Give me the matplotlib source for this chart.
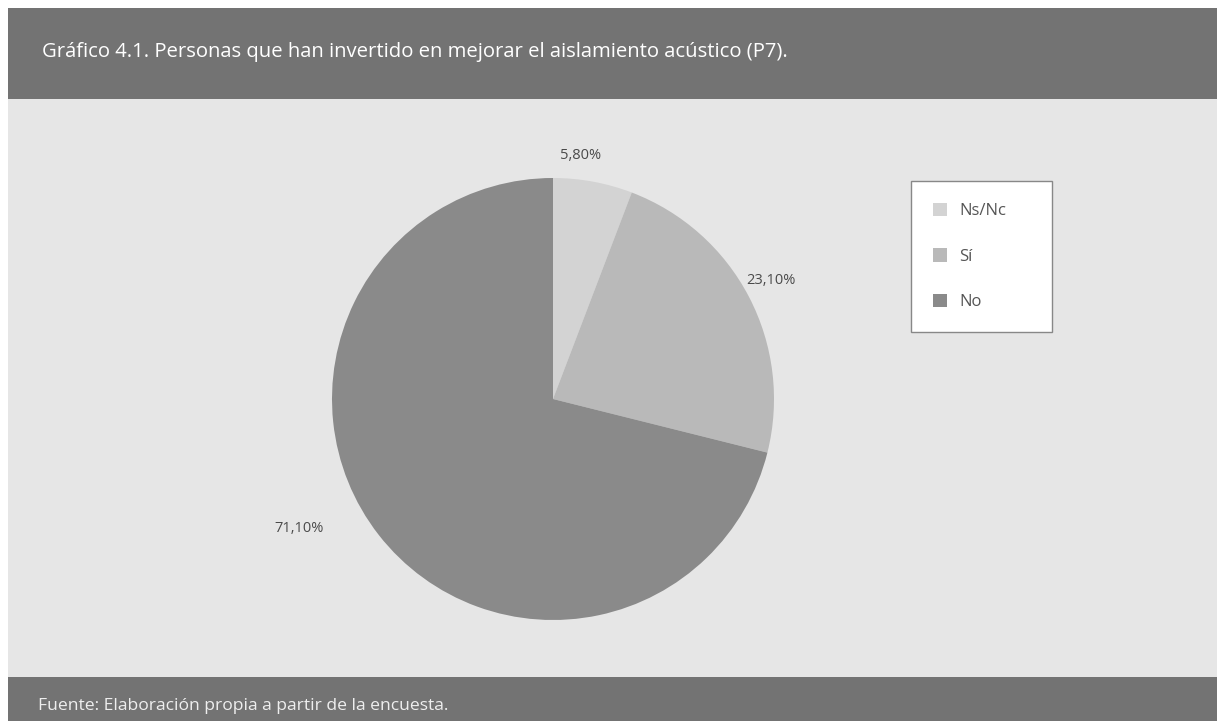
import matplotlib.pyplot as plt
from matplotlib.patches import Rectangle
import numpy as np

categorias = ["Ns/Nc", "Sí", "No"]
valores = [5.8, 23.1, 71.1]
colores = ["#d3d3d3", "#b9b9b9", "#8a8a8a"]
etiquetas = ["5,80%", "23,10%", "71,10%"]

titulo = "Gráfico 4.1. Personas que han invertido en mejorar el aislamiento acústico (P7)."
fuente = "Fuente: Elaboración propia a partir de la encuesta."

W, H = 1217, 721
fig = plt.figure(figsize=(W / 100, H / 100), dpi=100)
fig.patch.set_facecolor("white")

def px(x0, y0, w, h):
    # rectángulo en pixeles (origen arriba a la izquierda) -> coordenadas de figura
    return [x0 / W, 1 - (y0 + h) / H, w / W, h / H]

# bandas de fondo
for (x0, y0, w, h), c in [((8, 8, W, 91), "#737373"),
                          ((8, 99, W, 578), "#e6e6e6"),
                          ((8, 677, W, 50), "#737373")]:
    b = px(x0, y0, w, h)
    fig.patches.append(Rectangle((b[0], b[1]), b[2], b[3], transform=fig.transFigure,
                                 facecolor=c, edgecolor="none", zorder=-5))

fig.text(42 / W, 1 - 52 / H, titulo, color="white", fontsize=14.6,
         family=["Open Sans", "DejaVu Sans"], va="center", ha="left")
fig.text(38 / W, 1 - 706 / H, fuente, color="#eeeeee", fontsize=12.6,
         family=["Open Sans", "DejaVu Sans"], va="center", ha="left")

# tarta
cx, cy, r = 553, 399, 221
ax = fig.add_axes(px(cx - r, cy - r, 2 * r, 2 * r))
ax.set_facecolor("none")
wedges, _ = ax.pie(valores, colors=colores, startangle=90, counterclock=False,
                   radius=1, wedgeprops=dict(linewidth=0))
ax.set_xlim(-1, 1)
ax.set_ylim(-1, 1)
ax.set_aspect("equal")
ax.axis("off")

dist = [1.11, 1.12, 1.29]
desv = [4, 1, -11]
for w, et, d, dv in zip(wedges, etiquetas, dist, desv):
    ang = np.deg2rad((w.theta1 + w.theta2) / 2 + dv)
    ax.text(d * np.cos(ang), d * np.sin(ang), et, ha="center", va="center",
            fontsize=10.5, color="#4a4a4a", family=["Open Sans", "DejaVu Sans"],
            clip_on=False)

# leyenda
leg = fig.legend(wedges, categorias, loc="upper left", mode="expand",
                 bbox_to_anchor=px(911, 181, 141, 153), borderaxespad=0,
                 frameon=True, fancybox=False, framealpha=1,
                 handlelength=0.85, handleheight=0.85, handletextpad=0.75,
                 labelspacing=1.75, borderpad=1.3,
                 prop={"family": ["Open Sans", "DejaVu Sans"], "size": 12})
leg.get_frame().set_facecolor("white")
leg.get_frame().set_edgecolor("#888888")
leg.get_frame().set_linewidth(1.0)
for t in leg.get_texts():
    t.set_color("#555555")

fig.savefig("out.png", dpi=100)
